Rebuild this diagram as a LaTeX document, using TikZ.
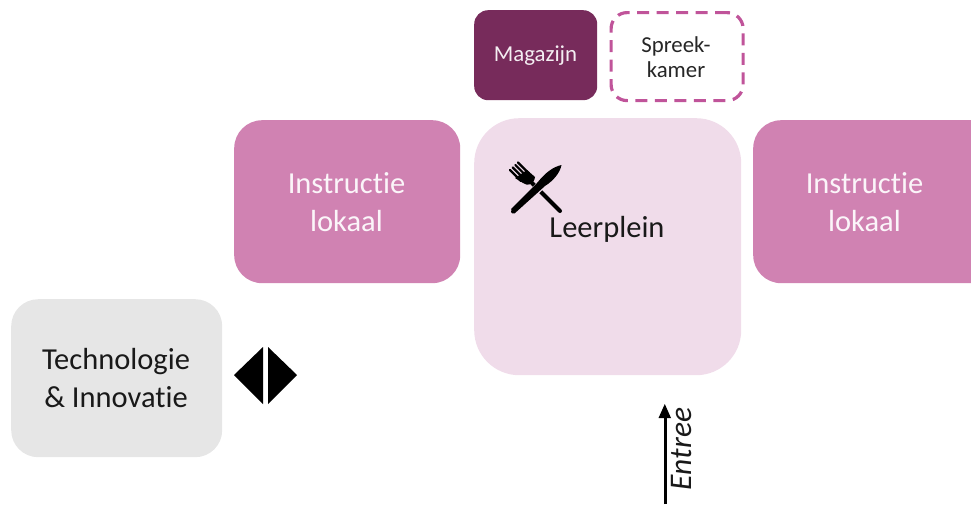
\documentclass[tikz,border=0pt]{standalone}
\usepackage{fontspec}
\setmainfont[Ligatures=NoCommon]{Carlito}
\definecolor{mag}{HTML}{772B5B}
\definecolor{dash}{HTML}{C0549A}
\definecolor{plein}{HTML}{F0DCEA}
\definecolor{instr}{HTML}{D082B2}
\definecolor{tech}{HTML}{E6E6E6}
\tikzset{
  room/.style={rounded corners=#1, inner sep=0pt, anchor=north west, align=center},
  lbl/.style={font=\fontsize{30.5}{37.5}\selectfont, align=center, inner sep=0pt},
  small/.style={font=\fontsize{22.8}{25.5}\selectfont, align=center, inner sep=0pt},
}
\begin{document}
\begin{tikzpicture}[x=1pt,y=-1pt]
\useasboundingbox (0,0) rectangle (971,504);
\clip (0,0) rectangle (971,504);
% rooms
\node[room=14pt, fill=mag, minimum width=123pt, minimum height=90pt] (mz) at (474,10) {};
\node[small, text=white!92!mag] (mzt) at (535.5,56) {Magazijn};
\node[room=16pt, draw=dash, line width=3.2pt, dash pattern=on 12pt off 7.5pt, minimum width=132pt, minimum height=88pt] (sp) at (609.5,11) {};
\node[small, text=black!85] (spt) at (676,57) {Spreek-\\kamer};
\node[room=45pt, fill=plein, minimum width=267pt, minimum height=257pt] (lp) at (474,118) {};
\node[lbl, text=black!90] (lpt) at (607,229) {Leerplein};
\node[room=28pt, fill=instr, minimum width=226pt, minimum height=163pt] (il) at (234,120) {};
\node[lbl, text=white!92!instr] (ilt) at (346.5,202) {Instructie\\lokaal};
\node[room=28pt, fill=instr, minimum width=250pt, minimum height=163pt] (ir) at (753,120) {};
\node[lbl, text=white!92!instr] (irt) at (864.5,202) {Instructie\\lokaal};
\node[room=27pt, fill=tech, minimum width=211pt, minimum height=158pt] (ti) at (11,299) {};
\node[lbl, text=black!90] (tit) at (116,378) {Technologie\\\& Innovatie};
% double door symbol
\fill (234,375) -- (263,347) -- (263,404) -- cycle;
\fill (297,375) -- (268,347) -- (268,404) -- cycle;
% cutlery: fork
\draw[line width=4pt, line cap=round] (560,211) -- (532,183);
\fill (523,183) .. controls (528,187) and (534,184) .. (535,177) -- (527,170) -- (515,178) -- cycle;
\draw[line width=2.2pt, line cap=round] (510,170) -- (521,181);
\draw[line width=2.2pt, line cap=round] (512.7,167.5) -- (523.7,178.5);
\draw[line width=2.2pt, line cap=round] (515.4,165) -- (526.4,176);
\draw[line width=2.2pt, line cap=round] (518,162.5) -- (529,173.5);
% cutlery: gap and knife
\draw[plein, line width=9pt] (527,199) -- (545,181);
\fill[black, line join=round] (511,209) -- (514.5,213.5) -- (545,186) .. controls (553,181) and (560,173) .. (561.5,165) .. controls (553,167) and (546,172) .. (537,183) -- cycle;
\draw[line width=4pt, line cap=round] (513,211.5) -- (540,185);
% entrance
\coordinate (e0) at (665,504);
\coordinate (e1) at (665,417);
\draw[line width=3pt] (e0) -- (e1);
\fill (658.5,418) -- (664.8,404) -- (671,418) -- cycle;
\node[font=\fontsize{31.5}{30}\selectfont\itshape, rotate=90, inner sep=0pt, text=black!90] (en) at (682,449) {Entree};
\end{tikzpicture}
\end{document}
